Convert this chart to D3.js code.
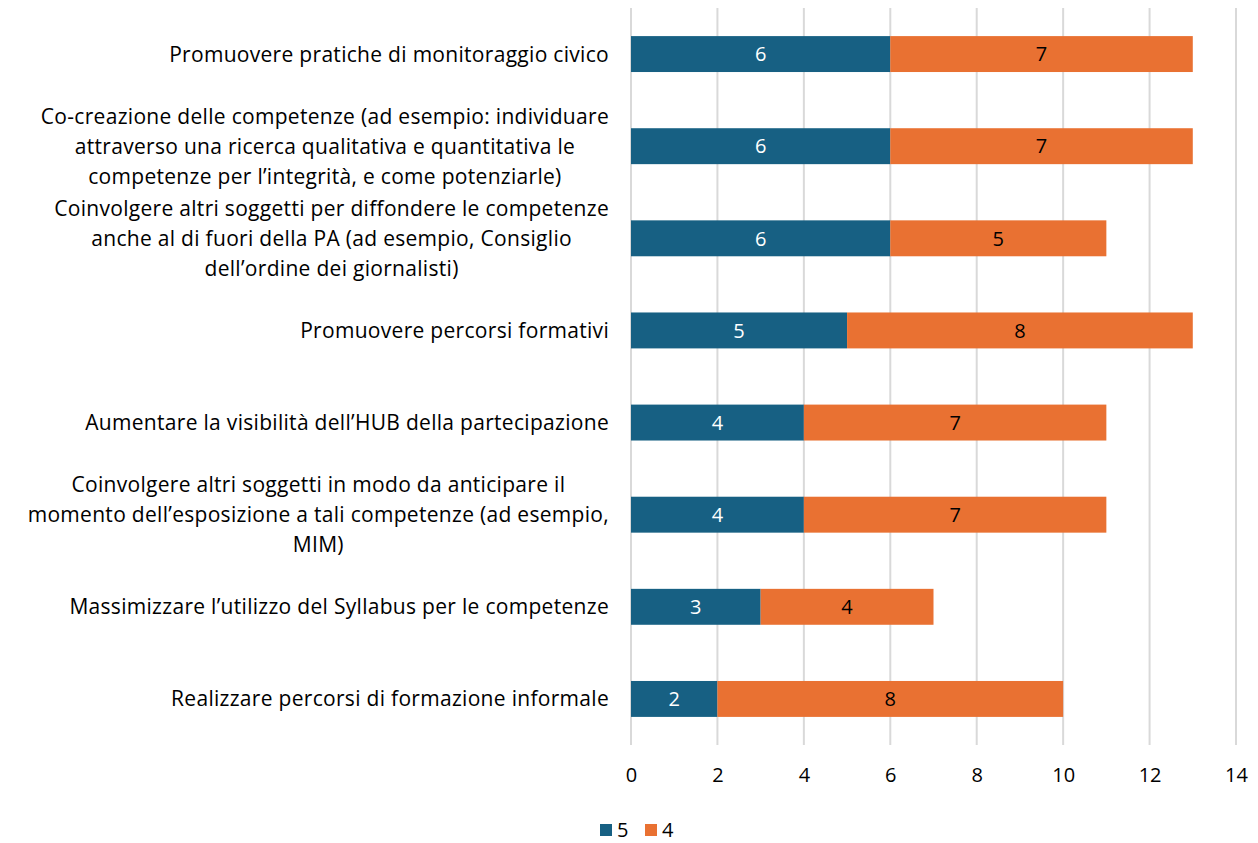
<!DOCTYPE html>
<meta charset="utf-8">
<title>Competenze</title>
<style>
body { margin: 0; background: #fff; }
text { font-family: "Open Sans", "Noto Sans", sans-serif; fill: #000; }
.grid line { stroke: #d9d9d9; stroke-width: 2px; }
</style>
<svg width="1258" height="843"></svg>
<script src="https://d3js.org/d3.v7.min.js"></script>
<script>
// categories, each one split in the lines shown in the chart
var categories = [
	["Promuovere pratiche di monitoraggio civico"],
	["Co-creazione delle competenze (ad esempio: individuare", "attraverso una ricerca qualitativa e quantitativa le", "competenze per l\u2019integrit\u00e0, e come potenziarle)"],
	["Coinvolgere altri soggetti per diffondere le competenze", "anche al di fuori della PA (ad esempio, Consiglio", "dell\u2019ordine dei giornalisti)"],
	["Promuovere percorsi formativi"],
	["Aumentare la visibilit\u00e0 dell\u2019HUB della partecipazione"],
	["Coinvolgere altri soggetti in modo da anticipare il", "momento dell\u2019esposizione a tali competenze (ad esempio,", "MIM)"],
	["Massimizzare l\u2019utilizzo del Syllabus per le competenze"],
	["Realizzare percorsi di formazione informale"]
]
var series = ["5", "4"]
var values5 = [6, 6, 6, 5, 4, 4, 3, 2]
var values4 = [7, 7, 5, 8, 7, 7, 4, 8]
var xTicks = [0, 2, 4, 6, 8, 10, 12, 14]
var colors = ["#176083", "#e97132"]
var labelColors = ["#fff", "#000"]

var svg = d3.select("svg")
var plotL = 631, plotR = 1236, plotT = 8, plotB = 745

var x = d3.scaleLinear().domain([0, 14]).range([plotL, plotR])
var y = d3.scaleBand().domain(d3.range(categories.length)).range([plotT, plotB])
	.paddingInner(0.61).paddingOuter(0.305)

// grid lines
svg.append("g").attr("class", "grid")
	.selectAll("line").data(xTicks).enter().append("line")
	.attr("x1", function(d) { return x(d) }).attr("x2", function(d) { return x(d) })
	.attr("y1", plotT).attr("y2", plotB)

// stacked data
var rows = categories.map(function(c, i) { return {i: i, "5": values5[i], "4": values4[i]} })
var stacked = d3.stack().keys(series)(rows)

var layer = svg.append("g").selectAll("g").data(stacked).enter().append("g")

layer.each(function(s, si) {
	var g = d3.select(this)
	g.selectAll("rect").data(s).enter().append("rect")
		.attr("x", function(d) { return x(d[0]) })
		.attr("width", function(d) { return x(d[1]) - x(d[0]) })
		.attr("y", function(d) { return y(d.data.i) })
		.attr("height", y.bandwidth())
		.attr("fill", colors[si])
	g.selectAll("text").data(s).enter().append("text")
		.attr("x", function(d) { return (x(d[0]) + x(d[1])) / 2 })
		.attr("y", function(d) { return y(d.data.i) + y.bandwidth() / 2 })
		.attr("dy", "0.36em")
		.attr("text-anchor", "middle")
		.style("font-size", "20px")
		.style("fill", labelColors[si])
		.text(function(d) { return d[1] - d[0] })
})

// category labels: centered lines, block right-aligned
var lineH = 30
categories.forEach(function(lines, i) {
	var g = svg.append("g")
	var cy = y(i) + y.bandwidth() / 2
	var t = g.selectAll("text").data(lines).enter().append("text")
		.attr("y", function(d, k) { return cy + (k - (lines.length - 1) / 2) * lineH })
		.attr("dy", "0.36em")
		.attr("text-anchor", "middle")
		.style("font-size", "21px")
		.style("letter-spacing", "0.3px")
		.text(function(d) { return d })
	var maxW = d3.max(t.nodes(), function(n) { return n.getComputedTextLength() })
	t.attr("x", 609 - maxW / 2)
})

// x axis
var axis = svg.append("g").attr("transform", "translate(0," + (plotB + 30) + ")")
	.call(d3.axisBottom(x).tickValues(xTicks).tickSize(0).tickPadding(0))
axis.select(".domain").remove()
axis.selectAll("text").style("font-size", "20px").style("font-family", "\"Open Sans\", sans-serif").attr("dy", "0.36em").attr("fill", "#000")

// legend
var legend = svg.append("g").attr("transform", "translate(600,830)")
series.forEach(function(s, i) {
	var lg = legend.append("g").attr("transform", "translate(" + (i * 45) + ",0)")
	lg.append("rect").attr("x", 0).attr("y", -6).attr("width", 12).attr("height", 12).attr("fill", colors[i])
	lg.append("text").attr("x", 17).attr("dy", "0.36em").style("font-size", "20px").text(s)
})
</script>
